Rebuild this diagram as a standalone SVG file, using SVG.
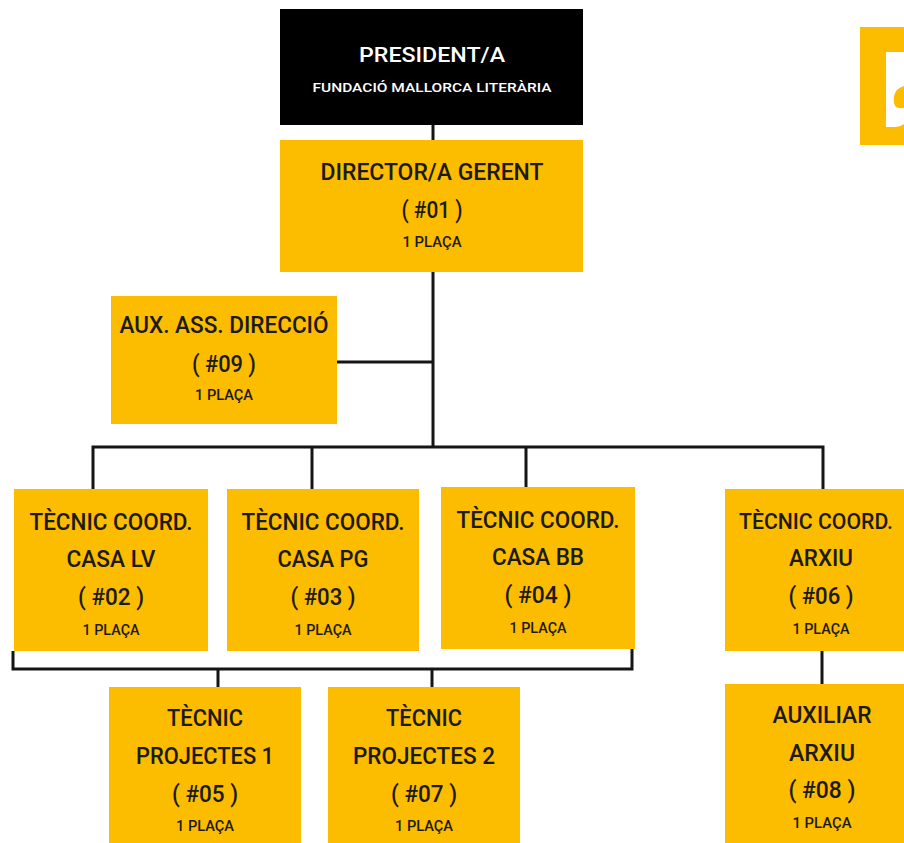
<svg xmlns="http://www.w3.org/2000/svg" width="904" height="843" viewBox="0 0 904 843">
<style>
.box{fill:#FCBC00}
.dark{fill:#000}
.t{font-family:Roboto,"Liberation Sans",sans-serif;font-weight:500;fill:#1c1a14;text-anchor:middle;font-size:23px}
.s{font-family:Roboto,"Liberation Sans",sans-serif;font-weight:500;fill:#1c1a14;text-anchor:middle;font-size:14px}
.c{fill:none;stroke:#151515;stroke-width:3}
</style>
<rect width="904" height="843" fill="#fff"/>
<g id="logo">
<path class="box" d="M860 27 H904 V145 H860 Z"/>
<path fill="#fff" d="M886 52 H904 V86 Q896 88 894 96 Q893 104 896 107 Q900 109 904 108 V124 Q900 127 894 127 H886 Z"/>
</g>
<g id="connectors">
<path class="c" d="M433 125 V140"/>
<path class="c" d="M433 272 V447"/>
<path class="c" d="M337 362 H433"/>
<path class="c" d="M93 489 V447 H823 V489"/>
<path class="c" d="M312 447 V489"/>
<path class="c" d="M526 447 V487"/>
<path class="c" d="M13 651 V669 H632 V649"/>
<path class="c" d="M218 669 V687"/>
<path class="c" d="M432 669 V687"/>
<path class="c" d="M822 651 V684"/>
</g>
<g id="president">
<rect class="dark" x="280" y="9" width="303" height="116"/>
<text class="t" x="432" y="62" textLength="146" lengthAdjust="spacingAndGlyphs" style="fill:#fff;font-size:21px">PRESIDENT/A</text>
<text class="s" x="432" y="92" textLength="239" lengthAdjust="spacingAndGlyphs" style="fill:#fff;font-size:12.5px">FUNDACIÓ MALLORCA LITERÀRIA</text>
</g>
<g id="n01">
<rect class="box" x="280" y="140" width="303" height="132"/>
<text class="t" x="432" y="180" textLength="223" lengthAdjust="spacingAndGlyphs">DIRECTOR/A GERENT</text>
<text class="t" x="432" y="218" textLength="61" lengthAdjust="spacingAndGlyphs">( #01 )</text>
<text class="s" x="432" y="247" textLength="59" lengthAdjust="spacingAndGlyphs">1 PLAÇA</text>
</g>
<g id="n09">
<rect class="box" x="111" y="296" width="226" height="128"/>
<text class="t" x="224" y="333" textLength="209" lengthAdjust="spacingAndGlyphs">AUX. ASS. DIRECCIÓ</text>
<text class="t" x="224" y="372" textLength="64" lengthAdjust="spacingAndGlyphs">( #09 )</text>
<text class="s" x="224" y="400" textLength="58" lengthAdjust="spacingAndGlyphs">1 PLAÇA</text>
</g>
<g id="n02">
<rect class="box" x="14" y="489" width="194" height="162"/>
<text class="t" x="111" y="530" textLength="163" lengthAdjust="spacingAndGlyphs">TÈCNIC COORD.</text>
<text class="t" x="111" y="567" textLength="89" lengthAdjust="spacingAndGlyphs">CASA LV</text>
<text class="t" x="111" y="605" textLength="66" lengthAdjust="spacingAndGlyphs">( #02 )</text>
<text class="s" x="111" y="635" textLength="57" lengthAdjust="spacingAndGlyphs">1 PLAÇA</text>
</g>
<g id="n03">
<rect class="box" x="227" y="489" width="192" height="162"/>
<text class="t" x="323" y="530" textLength="163" lengthAdjust="spacingAndGlyphs">TÈCNIC COORD.</text>
<text class="t" x="323" y="567" textLength="91" lengthAdjust="spacingAndGlyphs">CASA PG</text>
<text class="t" x="323" y="605" textLength="65" lengthAdjust="spacingAndGlyphs">( #03 )</text>
<text class="s" x="323" y="635" textLength="57" lengthAdjust="spacingAndGlyphs">1 PLAÇA</text>
</g>
<g id="n04">
<rect class="box" x="441" y="487" width="194" height="162"/>
<text class="t" x="538" y="528" textLength="163" lengthAdjust="spacingAndGlyphs">TÈCNIC COORD.</text>
<text class="t" x="538" y="565" textLength="92" lengthAdjust="spacingAndGlyphs">CASA BB</text>
<text class="t" x="538" y="603" textLength="67" lengthAdjust="spacingAndGlyphs">( #04 )</text>
<text class="s" x="538" y="633" textLength="57" lengthAdjust="spacingAndGlyphs">1 PLAÇA</text>
</g>
<g id="n06">
<rect class="box" x="725" y="489" width="194" height="162"/>
<text class="t" x="816" y="529" textLength="154" lengthAdjust="spacingAndGlyphs" style="font-size:21.5px">TÈCNIC COORD.</text>
<text class="t" x="821" y="566" textLength="64" lengthAdjust="spacingAndGlyphs">ARXIU</text>
<text class="t" x="821" y="604" textLength="65" lengthAdjust="spacingAndGlyphs">( #06 )</text>
<text class="s" x="821" y="634" textLength="57" lengthAdjust="spacingAndGlyphs">1 PLAÇA</text>
</g>
<g id="n05">
<rect class="box" x="109" y="687" width="192" height="170"/>
<text class="t" x="205" y="726" textLength="76" lengthAdjust="spacingAndGlyphs">TÈCNIC</text>
<text class="t" x="205" y="764" textLength="138" lengthAdjust="spacingAndGlyphs">PROJECTES 1</text>
<text class="t" x="205" y="802" textLength="66" lengthAdjust="spacingAndGlyphs">( #05 )</text>
<text class="s" x="205" y="831" textLength="58" lengthAdjust="spacingAndGlyphs">1 PLAÇA</text>
</g>
<g id="n07">
<rect class="box" x="328" y="687" width="192" height="170"/>
<text class="t" x="424" y="726" textLength="76" lengthAdjust="spacingAndGlyphs">TÈCNIC</text>
<text class="t" x="424" y="764" textLength="142" lengthAdjust="spacingAndGlyphs">PROJECTES 2</text>
<text class="t" x="424" y="802" textLength="66" lengthAdjust="spacingAndGlyphs">( #07 )</text>
<text class="s" x="424" y="831" textLength="58" lengthAdjust="spacingAndGlyphs">1 PLAÇA</text>
</g>
<g id="n08">
<rect class="box" x="725" y="684" width="194" height="170"/>
<text class="t" x="822" y="723" textLength="99" lengthAdjust="spacingAndGlyphs">AUXILIAR</text>
<text class="t" x="822" y="761" textLength="66" lengthAdjust="spacingAndGlyphs">ARXIU</text>
<text class="t" x="822" y="798" textLength="67" lengthAdjust="spacingAndGlyphs">( #08 )</text>
<text class="s" x="822" y="828" textLength="59" lengthAdjust="spacingAndGlyphs">1 PLAÇA</text>
</g>
</svg>
